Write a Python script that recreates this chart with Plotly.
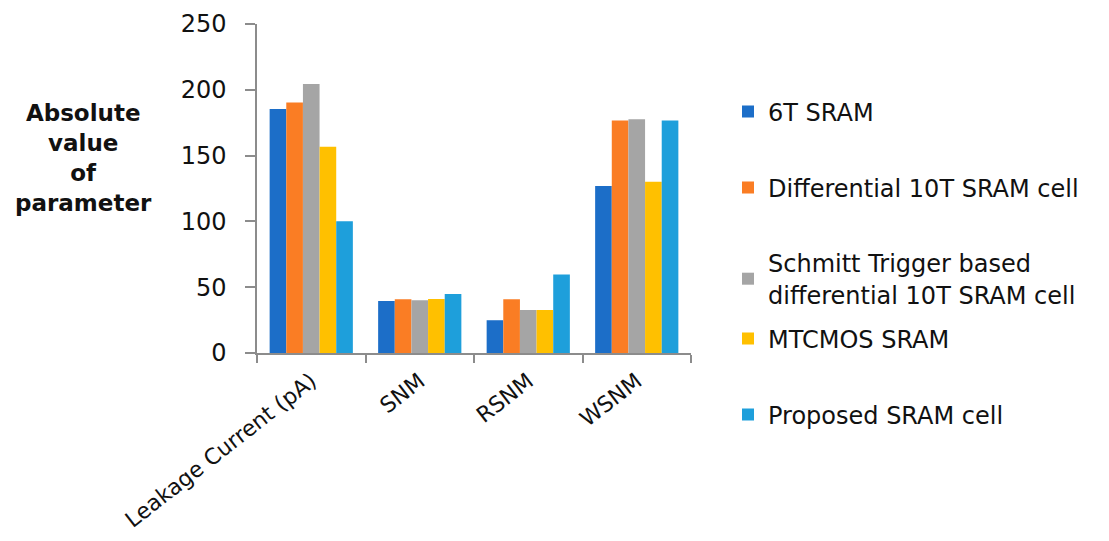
import plotly.graph_objects as go

# Parameters compared for each SRAM design
categories = ["Leakage Current (pA)", "SNM", "RSNM", "WSNM"]

sram_6t = [185.5, 39.6, 24.9, 126.9]
diff_10t = [190.3, 40.9, 40.8, 176.6]
schmitt_10t = [204.5, 40.0, 32.7, 177.6]
mtcmos = [156.8, 41.0, 32.7, 130.1]
proposed = [100.2, 44.9, 59.6, 176.6]

series_names = [
    "6T SRAM",
    "Differential 10T SRAM cell",
    "Schmitt Trigger based<br>differential 10T SRAM cell",
    "MTCMOS SRAM",
    "Proposed SRAM cell",
]
series_values = [sram_6t, diff_10t, schmitt_10t, mtcmos, proposed]
colors = ["#1C6EC8", "#FA7D24", "#A5A5A5", "#FFC000", "#1E9FDB"]

W, H = 1109, 541
FONT = "DejaVu Sans"
ml, mr, mt, mb = 257, 418, 24, 188
pw, ph = W - ml - mr, H - mt - mb


def px_to_paper_x(px):
    return (px - ml) / pw


def px_to_paper_y(py):
    return 1 - (py - mt) / ph


fig = go.Figure()

# one legend per series so each entry can sit at its own height
legend_centres = [112, 188, 279, 339, 415]
legend_keys = ["legend", "legend2", "legend3", "legend4", "legend5"]

for name, vals, col, key in zip(series_names, series_values, colors, legend_keys):
    fig.add_trace(go.Bar(
        x=categories, y=vals, name=name,
        marker=dict(color=col, line=dict(width=0)),
        legend=key,
    ))

layout_legends = {}
for key, yc in zip(legend_keys, legend_centres):
    layout_legends[key] = dict(
        x=px_to_paper_x(728), y=px_to_paper_y(yc),
        xanchor="left", yanchor="middle",
        bgcolor="rgba(0,0,0,0)",
        font=dict(family=FONT, size=24, color="#111"),
        itemwidth=30,
    )

fig.update_layout(
    width=W, height=H,
    margin=dict(l=ml, r=mr, t=mt, b=mb, autoexpand=False),
    paper_bgcolor="white", plot_bgcolor="white",
    barmode="group", bargap=0.233, bargroupgap=0,
    font=dict(family=FONT, size=24, color="#111"),
    xaxis=dict(
        showgrid=False, showline=True, linecolor="#8c8c8c", linewidth=1.5,
        ticks="outside", ticklen=8, tickcolor="#8c8c8c", tickwidth=1.5,
        tickson="boundaries", tickangle=-38, ticklabelstandoff=5,
        automargin=False,
        tickfont=dict(family=FONT, size=22, color="#111"),
    ),
    yaxis=dict(
        range=[0, 250], dtick=50, showgrid=False, zeroline=False,
        showline=True, linecolor="#8c8c8c", linewidth=1.5,
        ticks="outside", ticklen=10, tickcolor="#8c8c8c", tickwidth=1.5,
        ticklabelstandoff=14, automargin=False,
        tickfont=dict(family=FONT, size=24, color="#111"),
    ),
    showlegend=True,
    **layout_legends,
)

# Y-axis title, horizontal and centred to the left of the axis
fig.add_annotation(
    text="<b>Absolute<br>value<br>of<br>parameter</b>",
    xref="paper", yref="paper",
    x=px_to_paper_x(83), y=px_to_paper_y(158),
    xanchor="center", yanchor="middle", align="center", showarrow=False,
    font=dict(family=FONT, size=23, color="#111"),
)

fig.write_html("out.html")
